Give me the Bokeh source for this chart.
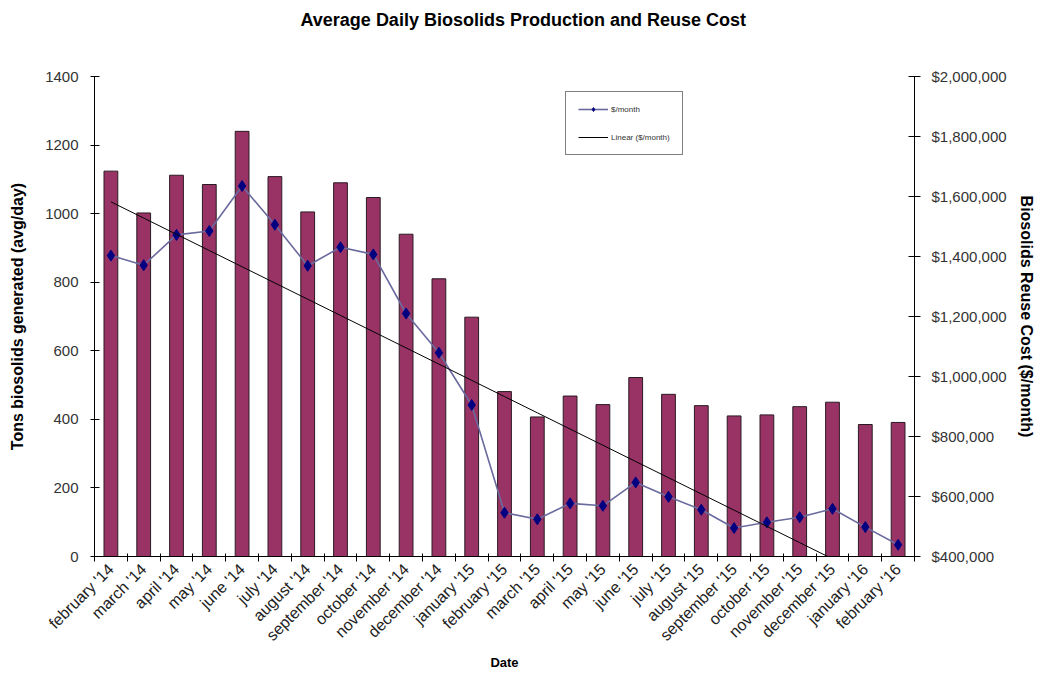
import math
import numpy as np
from bokeh.plotting import figure
from bokeh.models import (Range1d, LinearAxis, FixedTicker, Legend, LegendItem, Title)
from bokeh.embed import file_html
from bokeh.resources import INLINE

months = ["february '14", "march '14", "april '14", "may '14", "june '14", "july '14",
          "august '14", "september '14", "october '14", "november '14", "december '14",
          "january '15", "february '15", "march '15", "april '15", "may '15", "june '15",
          "july '15", "august '15", "september '15", "october '15", "november '15",
          "december '15", "january '16", "february '16"]

tons_per_day = [1124, 1002, 1112, 1085, 1240, 1108, 1005, 1090, 1047, 940, 810,
                698, 481, 407, 468, 443, 522, 473, 440, 410, 413, 437, 450, 385, 391]

cost_per_month = [1403000, 1371000, 1472000, 1485000, 1635000, 1506000, 1369000,
                  1431000, 1407000, 1210000, 1079000, 905000, 546000, 524000, 577000,
                  569000, 647000, 599000, 556000, 495000, 514000, 531000, 559000,
                  498000, 439000]

left_ticks = [0, 200, 400, 600, 800, 1000, 1200, 1400]
right_ticks = [400000, 600000, 800000, 1000000, 1200000, 1400000, 1600000, 1800000, 2000000]

title_text = "Average Daily Biosolids Production and Reuse Cost"

FONT = "Liberation Sans"

idx = list(range(len(months)))
slope, intercept = np.polyfit(idx, cost_per_month, 1)
trend = [slope * i + intercept for i in idx]

W, H = 1037, 673
BL, BR, BT, BB = 94, 121, 76, 117
FH = H - BT - BB

p = figure(width=W, height=H, output_backend="svg", toolbar_location=None,
           x_range=Range1d(-0.5, len(months) - 0.5), y_range=Range1d(0, 1400),
           min_border_left=BL, min_border_right=BR, min_border_top=BT,
           min_border_bottom=BB)
p.outline_line_color = None
p.xgrid.visible = False
p.ygrid.visible = False
p.background_fill_color = "white"

# spacer panel between frame and title, then the title itself above it
spacer = Title(text=" ", text_font=FONT, text_font_size="20px", standoff=16)
p.add_layout(spacer, "above")
main_title = Title(text=title_text, text_font=FONT, text_font_size="18px",
                   text_font_style="bold", text_color="black", align="left",
                   offset=206, standoff=14)
p.add_layout(main_title, "above")

p.extra_y_ranges = {"cost": Range1d(400000, 2000000)}

# x axis
xa = p.xaxis[0]
xa.ticker = FixedTicker(ticks=idx, minor_ticks=[i - 0.5 for i in range(len(months) + 1)])
xa.major_label_overrides = {i: m for i, m in enumerate(months)}
xa.major_label_orientation = math.pi / 4
xa.major_tick_line_color = None
xa.minor_tick_in = 3
xa.minor_tick_out = 5
xa.minor_tick_line_color = "black"
xa.axis_line_color = "black"
xa.major_label_text_font = FONT
xa.major_label_text_font_size = "16px"
xa.major_label_text_color = "#222222"
xa.major_label_standoff = 4
xa.axis_label = "Date"
xa.axis_label_text_font = FONT
xa.axis_label_text_font_size = "13px"
xa.axis_label_text_font_style = "bold"
xa.axis_label_text_color = "black"
xa.axis_label_standoff = 2

# left axis
ya = p.yaxis[0]
ya.ticker = FixedTicker(ticks=left_ticks)
ya.minor_tick_line_color = None
ya.major_tick_in = 5
ya.major_tick_out = 4
ya.major_tick_line_color = "black"
ya.axis_line_color = "black"
ya.major_label_text_font = FONT
ya.major_label_text_font_size = "15px"
ya.major_label_text_color = "#333333"
ya.major_label_standoff = 12
ya.axis_label = "Tons biosolids generated (avg/day)"
ya.axis_label_text_font = FONT
ya.axis_label_text_font_size = "16px"
ya.axis_label_text_font_style = "bold"
ya.axis_label_text_color = "black"
ya.axis_label_standoff = 16

# right axis
ra = LinearAxis(y_range_name="cost", ticker=FixedTicker(ticks=right_ticks))
ra.major_label_overrides = {t: "${:,}".format(t) for t in right_ticks}
ra.minor_tick_line_color = None
ra.major_tick_in = 6
ra.major_tick_out = 6
ra.major_tick_line_color = "black"
ra.axis_line_color = "black"
ra.major_label_text_font = FONT
ra.major_label_text_font_size = "15px"
ra.major_label_text_color = "#333333"
ra.major_label_standoff = 11
ra.axis_label = "Biosolids Reuse Cost ($/month)"
ra.axis_label_text_font = FONT
ra.axis_label_text_font_size = "16px"
ra.axis_label_text_font_style = "bold"
ra.axis_label_text_color = "black"
ra.axis_label_standoff = 8
p.add_layout(ra, "right")

p.vbar(x=idx, top=tons_per_day, width=0.42, fill_color="#993366",
       line_color="#2a1a22", line_width=1)

cost_line = p.line(idx, cost_per_month, y_range_name="cost", line_color="#6a6a9e",
                   line_width=1.6)
cost_pts = p.scatter(idx, cost_per_month, y_range_name="cost", marker="diamond",
                     size=11, fill_color="#000080", line_color="#000080")
trend_line = p.line(idx, trend, y_range_name="cost", line_color="black", line_width=1)

legend = Legend(items=[LegendItem(label="$/month", renderers=[cost_line, cost_pts]),
                       LegendItem(label="Linear ($/month)", renderers=[trend_line])],
                location=(471, FH - 79), orientation="vertical")
legend.border_line_color = "black"
legend.border_line_width = 1
legend.background_fill_color = "white"
legend.background_fill_alpha = 1
legend.label_text_font = FONT
legend.label_text_font_size = "8px"
legend.label_text_color = "#333333"
legend.glyph_width = 30
legend.glyph_height = 10
legend.label_height = 10
legend.label_standoff = 3
legend.spacing = 18
legend.padding = 12
legend.margin = 0
legend.title = None
p.add_layout(legend, "center")

open("out.html", "w").write(file_html(p, INLINE))
